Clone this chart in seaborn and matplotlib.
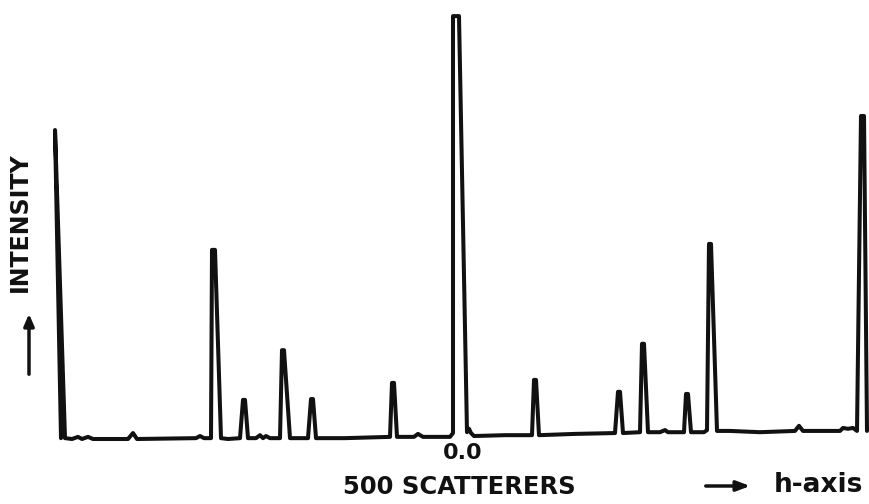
import matplotlib
matplotlib.use("Agg")
import matplotlib.pyplot as plt
import seaborn as sns
import pandas as pd

# h-axis position (centre of pattern = 0) and relative intensity (central peak = 100),
# read from the reference trace vertex by vertex
h = [-0.9875, -1.0025, -0.9775, -0.96, -0.945, -0.935, -0.92, -0.9075, -0.82, -0.8075,
     -0.7975, -0.65, -0.64, -0.63, -0.6125, -0.61, -0.6025, -0.5875, -0.57, -0.54,
     -0.5325, -0.5275, -0.52, -0.5, -0.49, -0.4825, -0.475, -0.465, -0.44, -0.435,
     -0.43, -0.415, -0.37, -0.3625, -0.3575, -0.35, -0.2775, -0.165, -0.16, -0.155,
     -0.1475, -0.105, -0.095, -0.0825, -0.015, -0.0075, -0.0075, 0.0075, 0.0275, 0.0325,
     0.0375, 0.045, 0.1225, 0.19, 0.195, 0.2, 0.2075, 0.2975, 0.3975, 0.405,
     0.41, 0.4175, 0.46, 0.465, 0.47, 0.48, 0.51, 0.5225, 0.53, 0.57,
     0.575, 0.58, 0.5875, 0.62, 0.6275, 0.6325, 0.6375, 0.6525, 0.685, 0.76,
     0.8475, 0.8575, 0.8675, 0.96, 0.9675, 0.98, 0.9925, 1.0025, 1.0125, 1.02,
     1.0275]
intensity = [0.2, 72.7, 0.2, 0.0, 0.5, 0.0, 0.5, 0.0, 0.0, 1.4,
             0.0, 0.2, 0.7, 0.2, 0.2, 44.5, 44.5, 0.2, 0.0, 0.2,
             9.2, 9.2, 0.2, 0.2, 0.9, 0.2, 0.7, 0.2, 0.2, 20.9,
             20.9, 0.2, 0.2, 9.4, 9.4, 0.2, 0.2, 0.5, 13.2, 13.2,
             0.5, 0.5, 1.2, 0.5, 0.5, 1.4, 99.5, 99.5, 1.6, 2.4,
             1.4, 0.7, 0.9, 0.9, 13.9, 13.9, 0.9, 1.2, 1.4, 11.1,
             11.1, 1.4, 1.6, 22.4, 22.4, 1.6, 1.6, 2.1, 1.6, 1.6,
             10.6, 10.6, 1.6, 1.6, 2.1, 45.9, 45.9, 1.9, 1.9, 1.6,
             1.9, 3.1, 1.9, 1.9, 2.6, 2.4, 2.6, 1.9, 76.0, 76.0,
             1.9]

center_label = "0.0"
title_label = "500 SCATTERERS"
x_label = "h-axis"
y_label = "INTENSITY"

df = pd.DataFrame({"h": h, "intensity": intensity})

sns.set_theme(style="white")
plt.rcParams['font.family'] = ['DejaVu Sans']

W, H = 869, 504
fig = plt.figure(figsize=(W / 100, H / 100), dpi=100)
ax = fig.add_axes([0, 0, 1, 1])
sns.lineplot(data=df, x="h", y="intensity", sort=False, estimator=None,
             color="#111111", linewidth=2.9, ax=ax)
for ln in ax.lines:
    ln.set_solid_joinstyle("round")
    ln.set_solid_capstyle("round")
ax.set_xlim((0 - 456) / 400, (W - 456) / 400)
ax.set_ylim((439 - H) / 4.25, 439 / 4.25)
ax.set_axis_off()


def fx(px):
    return px / W


def fy(py):
    return 1 - py / H


ink = "#111111"
fig.text(fx(20), fy(222), y_label, rotation=90, ha="center", va="center",
         fontsize=17, fontweight="bold", color=ink)
fig.text(fx(463), fy(453), center_label, ha="center", va="center",
         fontsize=16, fontweight="bold", color=ink)
fig.text(fx(459), fy(487), title_label, ha="center", va="center",
         fontsize=17.5, fontweight="bold", color=ink)
fig.text(fx(818), fy(485), x_label, ha="center", va="center",
         fontsize=19, fontweight="bold", color=ink)

# arrows
fig.add_artist(matplotlib.patches.FancyArrowPatch(
    (fx(29), fy(377)), (fx(29), fy(311)), transform=fig.transFigure,
    arrowstyle="-|>,head_length=7,head_width=3", color=ink, linewidth=2.5))
fig.add_artist(matplotlib.patches.FancyArrowPatch(
    (fx(703), fy(486)), (fx(753), fy(486)), transform=fig.transFigure,
    arrowstyle="-|>,head_length=8,head_width=3", color=ink, linewidth=2.5))

fig.savefig("out.png", dpi=100, facecolor="white")
